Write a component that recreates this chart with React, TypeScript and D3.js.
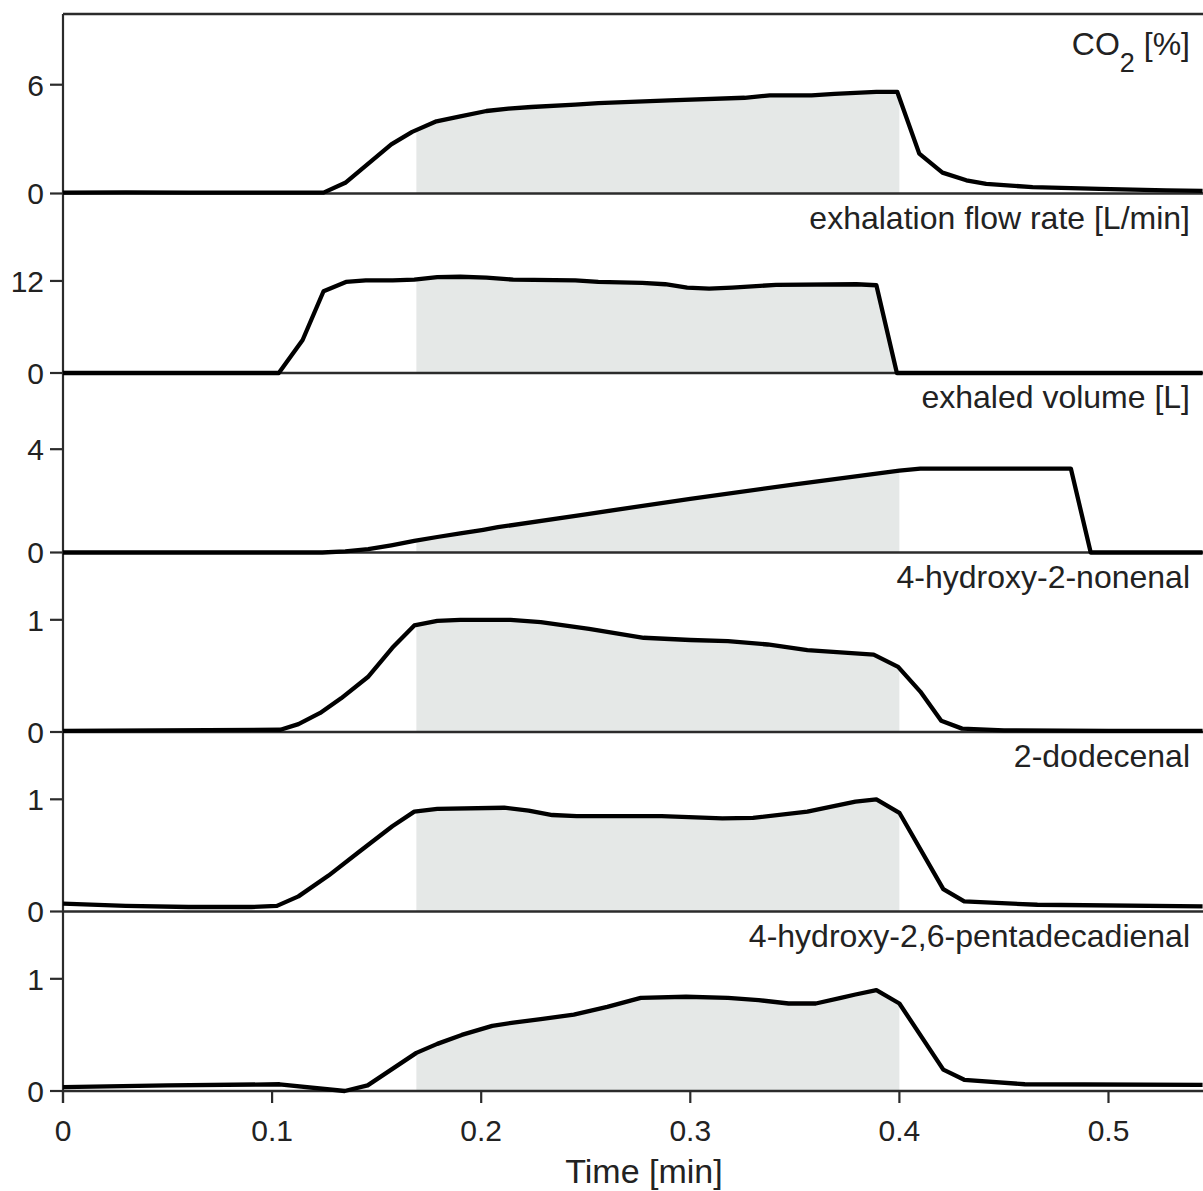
import React from "react";
import * as d3 from "d3";

// ---------- data ----------
const co2Time = [0, 0.03, 0.06, 0.09, 0.1246, 0.135, 0.146, 0.157, 0.167, 0.1786, 0.19, 0.2025, 0.213, 0.224, 0.245, 0.256, 0.29, 0.326, 0.338, 0.358, 0.369, 0.389, 0.399, 0.4095, 0.4206, 0.432, 0.4415, 0.4637, 0.4957, 0.5276, 0.545];
const co2Values = [0.05, 0.06, 0.05, 0.05, 0.05, 0.59, 1.65, 2.71, 3.4, 3.98, 4.25, 4.55, 4.68, 4.77, 4.9, 4.99, 5.14, 5.28, 5.41, 5.41, 5.5, 5.6, 5.6, 2.2, 1.15, 0.73, 0.53, 0.35, 0.26, 0.17, 0.15];

const flowTime = [0, 0.1032, 0.1146, 0.1246, 0.1353, 0.1448, 0.1577, 0.168, 0.179, 0.19, 0.2025, 0.2153, 0.245, 0.256, 0.277, 0.288, 0.2985, 0.309, 0.32, 0.341, 0.3795, 0.389, 0.3988, 0.545];
const flowValues = [0, 0, 4.3, 10.66, 11.87, 12.08, 12.08, 12.17, 12.5, 12.55, 12.43, 12.17, 12.08, 11.87, 11.74, 11.57, 11.14, 11.0, 11.14, 11.48, 11.57, 11.44, 0, 0];

const volumeTime = [0, 0.124, 0.135, 0.146, 0.157, 0.168, 0.179, 0.19, 0.201, 0.208, 0.25, 0.3, 0.35, 0.4, 0.41, 0.482, 0.4915, 0.545];
const volumeValues = [0, 0, 0.04, 0.13, 0.28, 0.45, 0.6, 0.74, 0.88, 0.98, 1.48, 2.08, 2.64, 3.17, 3.25, 3.25, 0, 0];

const hneTime = [0, 0.104, 0.1126, 0.123, 0.133, 0.1458, 0.1575, 0.168, 0.179, 0.19, 0.214, 0.2285, 0.2516, 0.2777, 0.3, 0.318, 0.337, 0.356, 0.3877, 0.3994, 0.41, 0.42, 0.43, 0.45, 0.5, 0.545];
const hneValues = [0.01, 0.02, 0.07, 0.17, 0.3, 0.49, 0.75, 0.95, 0.99, 1.0, 1.0, 0.98, 0.92, 0.84, 0.82, 0.81, 0.78, 0.73, 0.69, 0.58, 0.36, 0.1, 0.03, 0.015, 0.01, 0.01];

const dodecenalTime = [0, 0.03, 0.06, 0.09, 0.1023, 0.1126, 0.127, 0.1415, 0.1575, 0.168, 0.179, 0.211, 0.2227, 0.234, 0.2457, 0.2863, 0.3153, 0.33, 0.356, 0.379, 0.389, 0.4, 0.421, 0.431, 0.466, 0.545];
const dodecenalValues = [0.07, 0.05, 0.04, 0.04, 0.05, 0.135, 0.32, 0.53, 0.76, 0.89, 0.915, 0.925, 0.9, 0.86, 0.85, 0.85, 0.83, 0.835, 0.89, 0.98, 1.0, 0.88, 0.2, 0.09, 0.06, 0.045];

const pentaTime = [0, 0.05, 0.1036, 0.1347, 0.1457, 0.169, 0.179, 0.1907, 0.2053, 0.2154, 0.2285, 0.2443, 0.2603, 0.2763, 0.298, 0.318, 0.3327, 0.347, 0.36, 0.372, 0.379, 0.389, 0.4, 0.421, 0.431, 0.46, 0.545];
const pentaValues = [0.035, 0.05, 0.06, 0.0, 0.05, 0.34, 0.42, 0.5, 0.58, 0.61, 0.64, 0.68, 0.75, 0.83, 0.84, 0.83, 0.81, 0.78, 0.78, 0.83, 0.86, 0.9, 0.78, 0.19, 0.1, 0.06, 0.055];

const panelLabels = ["CO2 [%]", "exhalation flow rate [L/min]", "exhaled volume [L]", "4-hydroxy-2-nonenal", "2-dodecenal", "4-hydroxy-2,6-pentadecadienal"];
const panelTicks = [[0, 6], [0, 12], [0, 4], [0, 1], [0, 1], [0, 1]];
const panelMax = [9.9, 23.4, 6.95, 1.6, 1.6, 1.6];
const xTicks = [0, 0.1, 0.2, 0.3, 0.4, 0.5];
const xTickLabels = ["0", "0.1", "0.2", "0.3", "0.4", "0.5"];
const shadeRange = [0.169, 0.4];
const xLabel = "Time [min]";

const seriesTimes = [co2Time, flowTime, volumeTime, hneTime, dodecenalTime, pentaTime];
const seriesValues = [co2Values, flowValues, volumeValues, hneValues, dodecenalValues, pentaValues];

// ---------- layout ----------
const W = 1203;
const H = 1191;
const left = 63;
const top = 14;
const panelH = 179.5;
const FONT = "'Liberation Sans', Arial, Helvetica, sans-serif";
const AXIS = "#2b2b2b";
const TEXT = "#222";

export default function App() {
  const x = d3.scaleLinear().domain([0, 0.5452]).range([left, W]);
  const bottom = top + 6 * panelH;

  return (
    <svg width={W} height={H} style={{ position: "absolute", left: 0, top: 0, background: "#fff" }} fontFamily={FONT}>
      <defs>
        <clipPath id="shadeClip">
          <rect x={x(shadeRange[0])} y={0} width={x(shadeRange[1]) - x(shadeRange[0])} height={H} />
        </clipPath>
      </defs>
      {seriesValues.map((vals, i) => {
        const y0 = top + (i + 1) * panelH;
        const y = d3.scaleLinear().domain([0, panelMax[i]]).range([y0, y0 - panelH]);
        const pts = seriesTimes[i].map((t, k) => [t, vals[k]] as [number, number]);
        const area = d3.area<[number, number]>().x((d) => x(d[0])).y0(y(0)).y1((d) => y(d[1]))(pts) || "";
        return <path key={"a" + i} d={area} fill="#e5e8e7" clipPath="url(#shadeClip)" />;
      })}
      {/* top border */}
      <line x1={left} x2={W} y1={top} y2={top} stroke={AXIS} strokeWidth={2.3} />
      {/* left axis */}
      <line x1={left} x2={left} y1={top} y2={bottom + 12} stroke={AXIS} strokeWidth={2.2} />
      {seriesValues.map((vals, i) => {
        const y0 = top + (i + 1) * panelH;
        const yTop = y0 - panelH;
        const y = d3.scaleLinear().domain([0, panelMax[i]]).range([y0, yTop]);
        const line = d3.line<[number, number]>().x((d) => x(d[0])).y((d) => y(d[1]));
        const pts = seriesTimes[i].map((t, k) => [t, vals[k]] as [number, number]);
        return (
          <g key={"p" + i}>
            <line x1={left} x2={W} y1={y0} y2={y0} stroke={AXIS} strokeWidth={2.3} />
            {panelTicks[i].map((tv) => (
              <g key={tv}>
                <line x1={left - 13} x2={left} y1={y(tv)} y2={y(tv)} stroke={AXIS} strokeWidth={2.2} />
                <text x={left - 19} y={y(tv)} dy="0.36em" textAnchor="end" fontSize={30} fill={TEXT}>
                  {tv}
                </text>
              </g>
            ))}
            {i === 0 ? (
              <text x={1190} y={yTop + 41} textAnchor="end" fontSize={32} fill={TEXT}>
                CO
                <tspan fontSize={27} dy={17}>2</tspan>
                <tspan dy={-17}> [%]</tspan>
              </text>
            ) : (
              <text x={1190} y={yTop + 35} textAnchor="end" fontSize={32} fill={TEXT}>
                {panelLabels[i]}
              </text>
            )}
            <path d={line(pts) || ""} fill="none" stroke="#000" strokeWidth={4.3} strokeLinejoin="round" strokeLinecap="butt" />
          </g>
        );
      })}
      {xTicks.map((t, k) => (
        <g key={"x" + k}>
          <line x1={x(t)} x2={x(t)} y1={bottom} y2={bottom + 12} stroke={AXIS} strokeWidth={2.2} />
          <text x={x(t)} y={bottom + 50} textAnchor="middle" fontSize={30} fill={TEXT}>
            {xTickLabels[k]}
          </text>
        </g>
      ))}
      <text x={644} y={bottom + 92} textAnchor="middle" fontSize={34} fill={TEXT}>
        {xLabel}
      </text>
    </svg>
  );
}
